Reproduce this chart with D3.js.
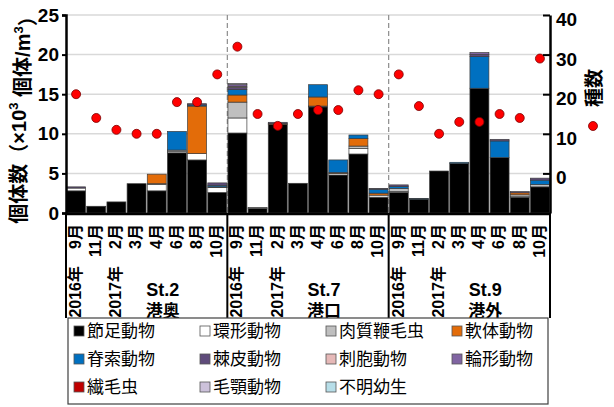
<!DOCTYPE html>
<html>
<head>
<meta charset="utf-8">
<script src="https://cdn.jsdelivr.net/npm/d3@7"></script>
<style>
  body { margin: 0; background: #fff; }
  text { font-family: "Liberation Sans", Arial, "Noto Sans CJK JP", sans-serif; }
</style>
</head>
<body>
<svg id="chart" width="614" height="407"></svg>
<script>
// Sampling stations and months
const stations = ["St.2", "St.7", "St.9"];
const stationNames = ["港奥", "港口", "港外"];
const months = ["9月", "11月", "2月", "3月", "4月", "6月", "8月", "10月"];
const yearLabels = ["2016年", "2017年"];

// Taxon names and fill colours (legend order = stacking order)
const taxa = ["節足動物", "環形動物", "肉質鞭毛虫", "軟体動物", "脊索動物", "棘皮動物",
              "刺胞動物", "輪形動物", "繊毛虫", "毛顎動物", "不明幼生"];
const taxonColors = ["#000000", "#ffffff", "#bfbfbf", "#e36c09", "#0070c0", "#5f4b7b",
                     "#e6b9b8", "#8064a2", "#c00000", "#ccc1da", "#b7dee8"];

// Abundance (×10³ ind./m³); 24 samples = St.2 ×8, St.7 ×8, St.9 ×8
const arthropoda   = [2.8, 0.8, 1.4, 3.7, 2.8, 7.6, 6.7, 2.6,   10.1, 0.6, 11.2, 3.75, 13.4, 4.8, 7.45, 2.0,   2.6, 1.75, 5.3, 6.25, 15.75, 7.0, 2.0, 3.3];
const annelida     = [0.35, 0.05, 0, 0, 0.8, 0.2, 0.8, 0.6,     1.9, 0.1, 0, 0, 0, 0.2, 0.7, 0.25,             0.1, 0, 0, 0, 0, 0, 0.05, 0];
const sarcodina    = [0, 0, 0, 0, 0.1, 0.15, 0, 0.1,            2.0, 0, 0, 0, 0.1, 0, 0.3, 0,                  0.4, 0, 0, 0, 0, 0, 0.25, 0.3];
const mollusca     = [0, 0, 0, 0, 1.2, 0, 6.0, 0,               0.9, 0, 0.1, 0, 1.15, 0.1, 0.95, 0.25,         0, 0, 0, 0, 0, 0, 0.25, 0];
const chordata     = [0, 0, 0, 0, 0, 2.35, 0.15, 0.2,           0.7, 0, 0, 0, 1.55, 1.6, 0.45, 0.5,            0.25, 0.1, 0, 0.15, 4.0, 2.1, 0, 0.55];
const echinodermata= [0.15, 0, 0, 0, 0, 0, 0.15, 0.3,           0.25, 0, 0.15, 0, 0, 0, 0, 0.1,                0.2, 0, 0, 0, 0.25, 0.2, 0.15, 0.25];
const cnidaria     = [0, 0, 0, 0, 0, 0, 0, 0,                   0.15, 0, 0, 0, 0, 0, 0, 0,                     0, 0, 0, 0, 0, 0, 0, 0];
const rotifera     = [0, 0, 0, 0, 0, 0, 0, 0,                   0.2, 0, 0, 0, 0, 0, 0, 0,                      0, 0, 0, 0, 0.25, 0, 0, 0];
const ciliophora   = [0, 0, 0, 0, 0, 0, 0, 0,                   0, 0, 0, 0, 0, 0, 0, 0,                        0, 0, 0, 0, 0, 0, 0, 0];
const chaetognatha = [0, 0, 0, 0, 0, 0, 0, 0,                   0.15, 0, 0, 0, 0, 0, 0, 0,                     0, 0, 0, 0, 0, 0, 0, 0];
const larvae       = [0, 0, 0, 0, 0, 0, 0, 0,                   0, 0, 0, 0, 0, 0, 0, 0,                        0, 0, 0, 0, 0, 0, 0, 0];

// Number of species per sample (right axis)
const speciesCount = [20, 14, 11, 10, 10, 18, 18, 25,   32, 15, 12, 15, 16, 16, 21, 20,   25, 17, 10, 13, 13, 15, 14, 29];

const leftTicks = [0, 5, 10, 15, 20, 25];
const rightTicks = [0, 10, 20, 30, 40];

const series = [arthropoda, annelida, sarcodina, mollusca, chordata, echinodermata,
                cnidaria, rotifera, ciliophora, chaetognatha, larvae];

// Build one row per sample
const samples = [];
stations.forEach((s, si) => months.forEach((m, mi) => {
  const i = si * months.length + mi;
  const row = { key: s + "-" + m, station: s, month: m, species: speciesCount[i] };
  taxa.forEach((t, ti) => row[t] = series[ti][i]);
  samples.push(row);
}));

const svg = d3.select("#chart");
const plotL = 66, plotR = 550, plotT = 15, plotB = 213;

const x = d3.scaleBand().domain(samples.map(d => d.key)).range([plotL, plotR]).paddingInner(0.06).paddingOuter(0.03);
const y = d3.scaleLinear().domain([0, 25]).range([plotB, plotT]);
const y2 = d3.scaleLinear().domain([-10, 40]).range([plotB, plotT]);
const color = d3.scaleOrdinal().domain(taxa).range(taxonColors);

// Gridlines
svg.append("g").selectAll("line").data(leftTicks.filter(v => v > 0)).join("line")
  .attr("x1", plotL).attr("x2", plotR)
  .attr("y1", d => y(d)).attr("y2", d => y(d))
  .attr("stroke", "#d9d9d9").attr("stroke-width", 1.5);

// Dashed station dividers inside the plot
const stationEdge = si => x(samples[si * months.length].key) - x.step() * x.paddingInner() / 2;
svg.append("g").selectAll("line").data([1, 2]).join("line")
  .attr("x1", d => stationEdge(d)).attr("x2", d => stationEdge(d))
  .attr("y1", plotT).attr("y2", plotB)
  .attr("stroke", "#8c8c8c").attr("stroke-width", 1.2).attr("stroke-dasharray", "5,3");

// Stacked bars
const stacked = d3.stack().keys(taxa)(samples);
svg.append("g").selectAll("g").data(stacked).join("g")
  .attr("fill", d => color(d.key))
  .selectAll("rect").data(d => d.filter(p => p[1] - p[0] > 0)).join("rect")
  .attr("x", d => x(d.data.key))
  .attr("width", x.bandwidth())
  .attr("y", d => y(d[1]))
  .attr("height", d => y(d[0]) - y(d[1]))
  .attr("stroke", "#3c3c3c").attr("stroke-width", 0.7);

// Species count points
svg.append("g").selectAll("circle").data(samples).join("circle")
  .attr("cx", d => x(d.key) + x.bandwidth() / 2)
  .attr("cy", d => y2(d.species))
  .attr("r", 4.5)
  .attr("fill", "#ff0000").attr("stroke", "#7a0000").attr("stroke-width", 0.8);

// Left axis
const gl = svg.append("g").attr("transform", `translate(${plotL},0)`)
  .call(d3.axisLeft(y).tickValues(leftTicks).tickSize(4).tickPadding(3));
gl.select(".domain").attr("stroke", "#000").attr("stroke-width", 2.5);
gl.selectAll(".tick line").attr("stroke", "#000").attr("stroke-width", 2);
gl.selectAll(".tick text").attr("font-size", 19).attr("font-weight", "bold").attr("fill", "#000")
  .attr("font-family", "Liberation Sans, Arial, sans-serif");

// Right axis
const gr = svg.append("g").attr("transform", `translate(${plotR},0)`)
  .call(d3.axisRight(y2).tickValues(rightTicks).tickSize(-7).tickPadding(6).tickSizeOuter(0));
gr.select(".domain").attr("stroke", "#000").attr("stroke-width", 2.5);
gr.selectAll(".tick line").attr("stroke", "#000").attr("stroke-width", 2);
gr.selectAll(".tick text").attr("font-size", 19).attr("font-weight", "bold").attr("fill", "#000")
  .attr("dy", "0.55em").attr("font-family", "Liberation Sans, Arial, sans-serif");

// Bottom axis line
svg.append("line").attr("x1", plotL - 1).attr("x2", plotR + 1).attr("y1", plotB + 1).attr("y2", plotB + 1)
  .attr("stroke", "#000").attr("stroke-width", 2.5);

// Category separators below the axis
const sepX = [plotL, stationEdge(1), stationEdge(2), plotR];
svg.append("g").selectAll("line").data(sepX).join("line")
  .attr("x1", d => d).attr("x2", d => d).attr("y1", plotB).attr("y2", 318)
  .attr("stroke", "#000").attr("stroke-width", 2);

// Month labels
svg.append("g").selectAll("text").data(samples).join("text")
  .attr("transform", d => `translate(${x(d.key) + x.bandwidth() / 2 - 1},224) rotate(-90)`)
  .attr("text-anchor", "end").attr("dy", "0.36em")
  .attr("font-size", 16).attr("font-weight", "bold").text(d => d.month);

// Year labels, station codes and names
stations.forEach((s, si) => {
  const k0 = samples[si * months.length].key;
  const k2 = samples[si * months.length + 2].key;
  [k0, k2].forEach((k, yi) => {
    svg.append("text")
      .attr("transform", `translate(${x(k) + x.bandwidth() / 2 - 1},266) rotate(-90)`)
      .attr("text-anchor", "end").attr("dy", "0.36em")
      .attr("font-size", 16).attr("font-weight", "bold").text(yearLabels[yi]);
  });
  const cx = (stationEdge(si) + (si < 2 ? stationEdge(si + 1) : plotR)) / 2 + 16;
  svg.append("text").attr("x", cx).attr("y", 296).attr("text-anchor", "middle")
    .attr("font-size", 18).attr("font-weight", "bold").text(s);
  svg.append("text").attr("x", cx).attr("y", 317).attr("text-anchor", "middle")
    .attr("font-size", 17).attr("font-weight", "bold").text(stationNames[si]);
});

// Axis titles
const lt = svg.append("text").attr("transform", "translate(19,115) rotate(-90)")
  .attr("text-anchor", "middle").attr("dy", "0.36em")
  .attr("font-size", 20).attr("font-weight", "bold");
lt.append("tspan").text("個体数（×10");
lt.append("tspan").attr("font-size", 13).attr("dy", "-0.6em").text("3");
lt.append("tspan").attr("dy", "0.6em").text(" 個体/m");
lt.append("tspan").attr("font-size", 13).attr("dy", "-0.6em").text("3");
lt.append("tspan").attr("dy", "0.6em").text("）");

svg.append("text").attr("transform", "translate(594,88) rotate(-90)")
  .attr("text-anchor", "middle").attr("dy", "0.36em")
  .attr("font-size", 19).attr("font-weight", "bold").text("種数");
svg.append("circle").attr("cx", 593).attr("cy", 126).attr("r", 4.5)
  .attr("fill", "#ff0000").attr("stroke", "#7a0000").attr("stroke-width", 0.8);

// Legend
const lg = svg.append("g");
lg.append("rect").attr("x", 68).attr("y", 318).attr("width", 480).attr("height", 86)
  .attr("fill", "#fff").attr("stroke", "#404040").attr("stroke-width", 1.2);
const colX = [74, 200, 326, 452];
const rowY = [331, 359, 387];
taxa.forEach((t, i) => {
  const cxl = colX[i % 4], cyl = rowY[Math.floor(i / 4)];
  lg.append("rect").attr("x", cxl).attr("y", cyl - 5).attr("width", 10).attr("height", 10)
    .attr("fill", color(t)).attr("stroke", "#555").attr("stroke-width", 0.8);
  lg.append("text").attr("x", cxl + 13).attr("y", cyl).attr("dy", "0.36em")
    .attr("font-size", 17).attr("font-family", "Noto Sans CJK JP, sans-serif").text(t);
});
</script>
</body>
</html>
